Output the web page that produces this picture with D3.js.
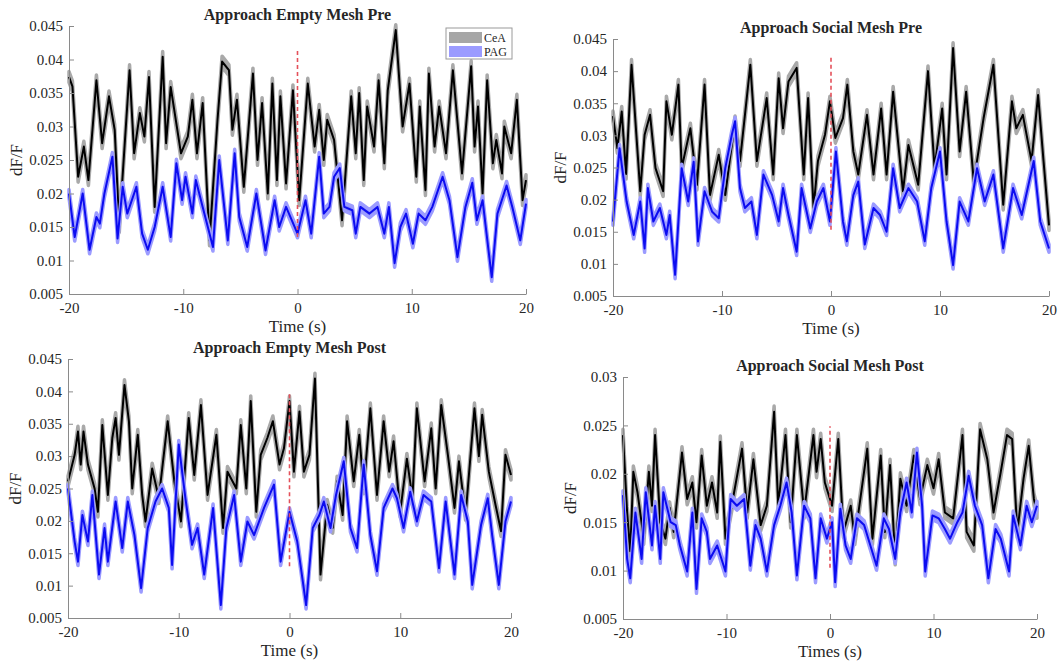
<!DOCTYPE html>
<html>
<head>
<meta charset="utf-8">
<script src="https://cdn.jsdelivr.net/npm/d3@7"></script>
<style>
  body { margin: 0; background: #fff; }
  svg { display: block; }
  text { font-family: "Liberation Serif", "Times New Roman", serif; fill: #262626; }
</style>
</head>
<body>
<svg id="fig" width="1060" height="663"></svg>
<script>
// traces as [time (s), dF/F] at the visible peaks and troughs
var emptyPreCeA = [[-20,.0374],[-19.7,.036],[-19.2,.0225],[-18.7,.027],[-18.3,.022],[-17.6,.0369],[-17.1,.0275],[-16.5,.0345],[-16,.0295],[-15.6,.015],[-14.7,.0384],[-14.3,.026],[-13.8,.032],[-13.4,.0285],[-13,.0374],[-12.5,.018],[-11.8,.0404],[-11.5,.0275],[-11.1,.0359],[-10.2,.026],[-9.6,.0285],[-9.2,.034],[-8.8,.026],[-8.3,.0335],[-7.7,.013],[-7,.031],[-6.6,.0397],[-6,.0384],[-5.7,.0295],[-5.3,.034],[-4.7,.021],[-3.9,.0379],[-3.5,.025],[-3.1,.0335],[-2.6,.02],[-2.2,.0364],[-1.8,.022],[-1.5,.0345],[-1,.0215],[-0.4,.0354],[0.15,.019],[0.9,.0364],[1.5,.027],[1.9,.0325],[2.3,.025],[2.6,.031],[3.2,.028],[3.9,.016],[4.7,.0345],[5.1,.026],[5.4,.035],[5.8,.022],[6.1,.033],[6.7,.027],[7.1,.0369],[7.6,.0245],[7.9,.0354],[8.6,.0444],[9.2,.03],[9.8,.0364],[10.4,.0225],[10.7,.033],[11.2,.0205],[11.5,.0379],[12,.027],[12.4,.033],[13,.026],[13.6,.0384],[14.4,.023],[15.2,.039],[15.5,.027],[15.8,.033],[16.2,.02],[16.6,.0369],[17.1,.0245],[17.4,.028],[17.9,.023],[18.1,.03],[18.7,.026],[19.2,.034],[19.7,.019],[20,.022]];
var emptyPrePAG = [[-20,.02],[-19.5,.0135],[-18.8,.02],[-18.2,.0116],[-17.6,.0165],[-17.3,.0155],[-16.9,.02],[-16.2,.0255],[-15.75,.0133],[-15.3,.021],[-14.9,.017],[-14.1,.021],[-13.6,.014],[-13.1,.0116],[-12.5,.015],[-11.8,.021],[-11.1,.0135],[-10.6,.0245],[-10.1,.019],[-9.8,.0225],[-9.2,.017],[-8.9,.022],[-8.3,.018],[-7.4,.012],[-6.85,.025],[-6.1,.013],[-5.5,.026],[-5.1,.0165],[-4.4,.012],[-3.6,.02],[-2.8,.0115],[-2,.019],[-1.6,.015],[-1,.018],[0,.014],[0.7,.019],[1.2,.014],[1.9,.0255],[2.3,.017],[2.8,.018],[3.2,.0225],[3.7,.0238],[4.1,.018],[4.8,.0175],[5.1,.014],[5.5,.018],[6.3,.017],[7,.018],[7.6,.014],[8,.018],[8.5,.0096],[9,.015],[9.5,.017],[10.1,.0125],[10.6,.017],[11.2,.016],[11.8,.018],[12.7,.0225],[13.3,.019],[14,.0105],[14.7,.018],[15.3,.0216],[15.7,.016],[16.2,.019],[17,.0075],[17.5,.017],[18.3,.0212],[18.8,.018],[19.5,.013],[20,.0185]];

var socialPreCeA = [[-20,.033],[-19.6,.028],[-19.2,.0337],[-18.8,.024],[-18.3,.041],[-17.5,.0213],[-17.1,.0301],[-16.6,.0332],[-16.1,.0249],[-15.4,.0213],[-15.1,.0353],[-14.6,.0301],[-14,.0379],[-13.7,.0249],[-12.9,.0311],[-12.3,.0223],[-11.6,.0379],[-11.1,.0207],[-10.3,.027],[-9.7,.0207],[-9.3,.026],[-8.8,.0322],[-8.35,.026],[-7.4,.041],[-6.8,.026],[-5.9,.0358],[-5.3,.0239],[-4.8,.0389],[-4.4,.0311],[-3.9,.0384],[-3.15,.0405],[-2.5,.0239],[-2.1,.0358],[-1.6,.0187],[-1.2,.026],[-0.55,.0301],[-0.1,.0353],[0.4,.0296],[1.1,.0327],[1.5,.0379],[2.05,.0275],[2.5,.0239],[3.3,.0332],[3.9,.0239],[4.6,.0342],[5.1,.0239],[5.7,.0368],[6.6,.0213],[7.1,.0285],[8,.0223],[8.9,.04],[9.5,.0249],[10.2,.0342],[10.6,.0239],[11.2,.0436],[11.8,.0275],[12.4,.0368],[13.1,.0228],[14,.0327],[14.9,.041],[15.8,.0192],[16.6,.0353],[17,.0311],[17.6,.0332],[18.4,.026],[19,.0363],[19.5,.026],[20,.016]];
var socialPrePAG = [[-20,.0166],[-19.4,.028],[-18.75,.0197],[-18.1,.0145],[-17.5,.0197],[-17.1,.0124],[-16.8,.0218],[-16.3,.0166],[-15.7,.0187],[-15.1,.0145],[-14.8,.0176],[-14.3,.0083],[-13.7,.0249],[-13.1,.0197],[-12.6,.0259],[-12.2,.0135],[-11.6,.0213],[-10.9,.0181],[-10.3,.0171],[-9.7,.0249],[-9.1,.0301],[-8.8,.0322],[-8.35,.0218],[-7.9,.0187],[-7.3,.0197],[-6.8,.0145],[-6.2,.0239],[-5.4,.0207],[-4.8,.0166],[-4.4,.0218],[-3.9,.0176],[-3.15,.0119],[-2.7,.0218],[-1.9,.0155],[-1.3,.0197],[-0.7,.0218],[-0.1,.0166],[0.45,.0275],[1.1,.0166],[1.45,.0135],[2.05,.0207],[2.5,.0228],[3.1,.013],[3.9,.0187],[4.5,.0176],[5.1,.015],[5.7,.0249],[6.3,.0187],[7.1,.0218],[7.9,.0197],[8.6,.0135],[9.2,.0218],[10,.0275],[10.6,.0166],[11.2,.0098],[11.8,.0197],[12.6,.0166],[13.4,.0249],[14.1,.0197],[14.9,.0239],[15.8,.0124],[16.7,.0218],[17.5,.0176],[18.6,.026],[19.2,.0166],[20,.0124]];

var emptyPostCeA = [[-20,.0261],[-19.4,.0302],[-19.1,.0338],[-18.85,.0287],[-18.6,.0338],[-18.2,.0287],[-17.6,.025],[-17.3,.0214],[-16.9,.0348],[-16.4,.024],[-16,.0328],[-15.7,.0359],[-15.4,.0302],[-14.9,.041],[-14.5,.0354],[-14.2,.025],[-13.7,.0333],[-13.3,.024],[-13,.0199],[-12.4,.0281],[-11.8,.0235],[-11,.0354],[-10.4,.0261],[-9.8,.0199],[-9.1,.0359],[-8.6,.0271],[-8,.0379],[-7.4,.024],[-6.6,.0333],[-6,.0189],[-5.6,.0276],[-4.8,.025],[-4.4,.0348],[-3.9,.025],[-3.5,.0385],[-3,.0214],[-2.6,.0302],[-2,.0328],[-1.5,.0354],[-0.9,.0287],[-0.5,.0312],[0,.0385],[0.4,.0276],[0.9,.0369],[1.3,.0276],[1.8,.0302],[2.3,.042],[2.8,.0117],[3.4,.0225],[3.9,.0189],[4.3,.0261],[4.8,.0209],[5.2,.0354],[5.8,.0261],[6.3,.0333],[6.7,.025],[7.3,.0374],[7.9,.024],[8.5,.0354],[9,.0276],[9.4,.0323],[10,.0214],[10.6,.0296],[11.1,.0235],[11.5,.0374],[12.2,.0261],[12.8,.0343],[13.2,.025],[13.7,.0379],[14.3,.0302],[14.9,.022],[15.3,.0292],[15.9,.0209],[16.7,.0374],[17.1,.03],[17.4,.0364],[18,.0276],[18.6,.0225],[19.1,.0184],[19.5,.0302],[20,.0271]];
var emptyPostPAG = [[-20,.025],[-19.4,.0168],[-19.1,.0137],[-18.7,.0209],[-18.2,.0168],[-17.8,.024],[-17.2,.0117],[-16.7,.0189],[-16.4,.0137],[-15.7,.023],[-15.1,.0158],[-14.6,.023],[-14,.0178],[-13.4,.0096],[-12.8,.0189],[-12.1,.023],[-11.5,.025],[-10.9,.022],[-10.6,.0132],[-10,.0318],[-9.4,.0235],[-8.8,.0163],[-8.3,.0189],[-7.7,.0117],[-6.9,.022],[-6.2,.007],[-5.7,.0189],[-5,.024],[-4.4,.0137],[-3.8,.0199],[-3.2,.0178],[-2.3,.022],[-1.4,.0256],[-0.8,.0137],[0,.0214],[0.7,.0168],[1.5,.007],[2.1,.0189],[2.7,.0209],[3.1,.023],[3.7,.0189],[4.2,.024],[4.9,.0292],[5.5,.0189],[6.1,.0158],[6.7,.0287],[7.3,.0178],[7.9,.0122],[8.5,.022],[9.3,.025],[9.7,.0235],[10.3,.0189],[10.9,.0245],[11.5,.0199],[12.1,.024],[12.8,.023],[13.5,.0127],[14.1,.023],[14.9,.0117],[15.5,.024],[16.1,.0199],[16.5,.0101],[17.3,.0194],[17.9,.0235],[18.3,.0178],[18.9,.0101],[19.5,.0199],[20,.023]];

var socialPostCeA = [[-20,.024],[-19.6,.016],[-19.3,.012],[-19,.0202],[-18.6,.0181],[-18,.0133],[-17.5,.0202],[-17.2,.0167],[-16.9,.024],[-16.4,.015],[-15.9,.0133],[-15.5,.0165],[-15.1,.014],[-14.3,.0222],[-13.8,.0174],[-13.3,.0191],[-12.9,.015],[-12.4,.0219],[-11.9,.0167],[-11.4,.0191],[-10.9,.016],[-10.6,.0233],[-10.1,.0133],[-9.5,.0167],[-8.5,.0226],[-8,.016],[-7.4,.0215],[-6.7,.0147],[-6.1,.0167],[-5.4,.0264],[-5,.0167],[-4.3,.024],[-3.8,.015],[-3.2,.024],[-2.5,.016],[-1.6,.024],[-1.3,.0202],[-0.9,.0236],[-0.5,.0191],[0.2,.0167],[0.8,.0236],[1.3,.014],[2,.0167],[2.4,.0133],[3.6,.0226],[4.1,.0133],[4.9,.0219],[5.3,.014],[5.8,.0209],[6.3,.0112],[6.8,.0195],[7.4,.0167],[8.1,.0219],[8.7,.0174],[9.4,.0209],[10,.0185],[10.5,.0215],[11.1,.016],[11.9,.0154],[12.8,.024],[13.2,.014],[13.9,.0126],[14.5,.0246],[15.2,.0215],[15.8,.016],[16.5,.0202],[17.1,.024],[17.6,.0236],[18.1,.014],[18.7,.0195],[19.2,.0229],[19.7,.0174],[20,.016]];
var socialPostPAG = [[-20,.0178],[-19.6,.0112],[-19.3,.0092],[-18.8,.016],[-18.2,.0112],[-17.8,.0181],[-17.2,.0126],[-16.9,.0167],[-16.4,.0112],[-16.1,.0181],[-15.4,.015],[-14.9,.0147],[-14.5,.0126],[-13.8,.0099],[-13.3,.016],[-12.9,.0081],[-12.4,.0154],[-11.9,.014],[-11.6,.0112],[-10.9,.0126],[-10.1,.0099],[-9.6,.0174],[-9,.0167],[-8.3,.0174],[-7.7,.0105],[-7.2,.0147],[-6.7,.0133],[-6.1,.0099],[-5.4,.0147],[-4.8,.0167],[-4.2,.0191],[-3.7,.016],[-3.2,.0095],[-2.5,.0167],[-1.9,.0154],[-1.4,.0092],[-0.9,.0154],[-0.3,.0133],[0.2,.015],[0.5,.0088],[1,.0164],[1.5,.0126],[2,.0112],[2.6,.0154],[3.3,.0147],[3.9,.0126],[4.5,.0105],[5.2,.0154],[5.7,.0143],[6.3,.0112],[6.8,.016],[7.4,.0191],[7.9,.016],[8.4,.0222],[8.9,.0167],[9.2,.0099],[9.9,.0157],[10.5,.0154],[11.1,.0143],[11.6,.0133],[12.3,.015],[12.8,.016],[13.4,.0198],[14,.0167],[14.7,.0147],[15.3,.0092],[16,.0143],[16.5,.0133],[17.3,.0099],[17.7,.0157],[18.4,.0126],[19,.0167],[19.5,.015],[20,.0167]];

// SEM half-widths of the shaded bands, panel order
var ceaSem = [0.0008, 0.0008, 0.0008, 0.0006];
var pagSem = [0.0006, 0.0006, 0.0006, 0.00045];

// red dashed onset marker at t = 0: [low, high]
var onsetMarkers = [[0.0135, 0.0415], [0.0153, 0.0421], [0.0130, 0.0398], [0.0103, 0.0249]];

var titles = ['Approach Empty Mesh Pre', 'Approach Social Mesh Pre', 'Approach Empty Mesh Post', 'Approach Social Mesh Post'];
var xLabels = ['Time (s)', 'Time (s)', 'Time (s)', 'Times (s)'];
var xTicks = [-20, -10, 0, 10, 20];
var yTicksWide = [0.005, 0.01, 0.015, 0.02, 0.025, 0.03, 0.035, 0.04, 0.045];
var yTicksNarrow = [0.005, 0.01, 0.015, 0.02, 0.025, 0.03];
var legendNames = ['CeA', 'PAG'];

var panels = [
    { cea: emptyPreCeA, pag: emptyPrePAG, yTicks: yTicksWide, x0: 69, x1: 526, y0: 26, y1: 294, legend: true },
    { cea: socialPreCeA, pag: socialPrePAG, yTicks: yTicksWide, x0: 613, x1: 1049, y0: 39, y1: 296 },
    { cea: emptyPostCeA, pag: emptyPostPAG, yTicks: yTicksWide, x0: 68, x1: 511, y0: 359, y1: 618 },
    { cea: socialPostCeA, pag: socialPostPAG, yTicks: yTicksNarrow, x0: 623, x1: 1037, y0: 377, y1: 619 }
];

var svg = d3.select('#fig');
var axisColor = '#8a8a8a';

panels.forEach(function(p, i) {
    var x = d3.scaleLinear().domain([-20, 20]).range([p.x0, p.x1]);
    var y = d3.scaleLinear().domain(d3.extent(p.yTicks)).range([p.y1, p.y0]);
    var g = svg.append('g');

    var area = function(sem) {
        return d3.area()
            .x(function(d) { return x(d[0]); })
            .y0(function(d) { return y(d[1] - sem); })
            .y1(function(d) { return y(d[1] + sem); });
    };
    var line = d3.line()
        .x(function(d) { return x(d[0]); })
        .y(function(d) { return y(d[1]); });

    // CeA: shaded sem band (stroked too, so steep parts keep their width) + mean
    g.append('path').datum(p.cea)
        .attr('d', area(ceaSem[i]))
        .style('fill', '#9e9e9e').style('stroke', '#a9a9a9').style('stroke-width', 3.5)
        .style('stroke-linejoin', 'round');
    g.append('path').datum(p.cea)
        .attr('d', line)
        .style('fill', 'none').style('stroke', '#000').style('stroke-width', 2)
        .style('stroke-linejoin', 'round');

    // PAG
    g.append('path').datum(p.pag)
        .attr('d', area(pagSem[i]))
        .style('fill', '#8c8cff').style('stroke', '#9b9bff').style('stroke-width', 3.5)
        .style('stroke-linejoin', 'round');
    g.append('path').datum(p.pag)
        .attr('d', line)
        .style('fill', 'none').style('stroke', '#0c0cf0').style('stroke-width', 2)
        .style('stroke-linejoin', 'round');

    // onset marker
    g.append('line')
        .attr('x1', x(0)).attr('x2', x(0))
        .attr('y1', y(onsetMarkers[i][0])).attr('y2', y(onsetMarkers[i][1]))
        .style('stroke', '#e4505a').style('stroke-width', 1.6)
        .style('stroke-dasharray', '4,3');

    // axes
    var xAxis = d3.axisBottom(x).tickValues(xTicks)
        .tickSizeInner(-5).tickSizeOuter(0).tickPadding(8)
        .tickFormat(function(d) { return String(d); });
    var xg = g.append('g').attr('transform', 'translate(0,' + p.y1 + ')');
    xAxis(xg);

    var yAxis = d3.axisLeft(y).tickValues(p.yTicks)
        .tickSizeInner(-5).tickSizeOuter(0).tickPadding(6)
        .tickFormat(function(d) { return String(+d.toFixed(3)); });
    var yg = g.append('g').attr('transform', 'translate(' + p.x0 + ',0)');
    yAxis(yg);

    [xg, yg].forEach(function(a) {
        a.select('.domain').style('stroke', axisColor);
        a.selectAll('line').style('stroke', axisColor);
        a.selectAll('text').style('font-size', '15px')
            .style('font-family', '"Liberation Serif", serif').style('fill', '#262626');
    });

    // labels
    g.append('text')
        .attr('x', (p.x0 + p.x1) / 2).attr('y', p.y0 - 6)
        .attr('text-anchor', 'middle')
        .style('font-size', '16px').style('font-weight', 'bold')
        .text(titles[i]);
    g.append('text')
        .attr('x', (p.x0 + p.x1) / 2).attr('y', p.y1 + 38)
        .attr('text-anchor', 'middle')
        .style('font-size', '17px')
        .text(xLabels[i]);
    g.append('text')
        .attr('transform', 'translate(' + (p.x0 - 47) + ',' + ((p.y0 + p.y1) / 2) + ') rotate(-90)')
        .attr('text-anchor', 'middle')
        .style('font-size', '17px')
        .text('dF/F');

    if (p.legend) {
        var lg = g.append('g').attr('transform', 'translate(446,28)');
        lg.append('rect').attr('width', 66).attr('height', 31)
            .style('fill', '#fff').style('stroke', '#9a9a9a');
        var swatch = ['#a6a6a6', '#9b9bff'];
        legendNames.forEach(function(name, k) {
            lg.append('rect')
                .attr('x', 3).attr('y', 4 + k * 14)
                .attr('width', 33).attr('height', 11)
                .style('fill', swatch[k]);
            lg.append('text')
                .attr('x', 38).attr('y', 13.5 + k * 14)
                .style('font-size', '12px')
                .text(name);
        });
    }
});
</script>
</body>
</html>
